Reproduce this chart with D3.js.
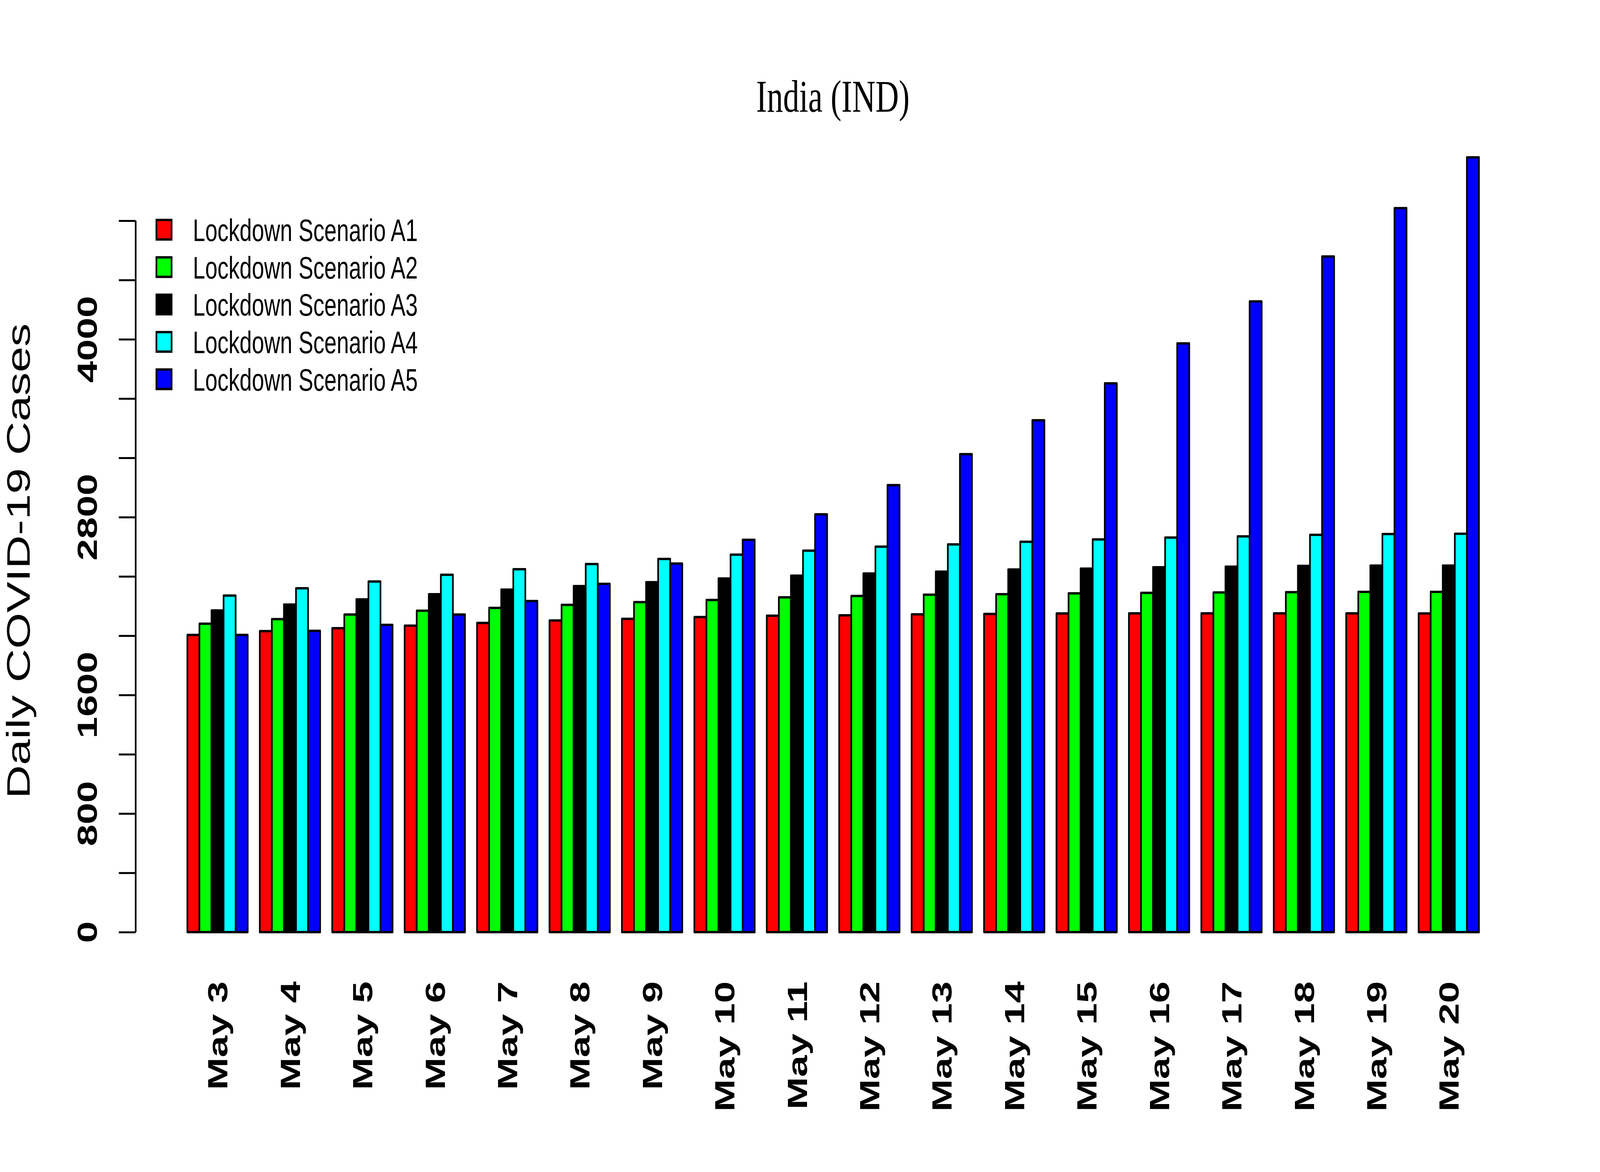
<!DOCTYPE html>
<html>
<head>
<meta charset="utf-8">
<script src="https://cdn.jsdelivr.net/npm/d3@7"></script>
<style>
  html, body { margin: 0; padding: 0; background: #ffffff; width: 100%; height: 100%; overflow: hidden; }
  svg { display: block; width: 100vw; height: 100vh; }
</style>
</head>
<body>
<script>
// ---- Data ----
const dates = ["May 3","May 4","May 5","May 6","May 7","May 8","May 9","May 10","May 11",
               "May 12","May 13","May 14","May 15","May 16","May 17","May 18","May 19","May 20"];
const seriesNames = ["Lockdown Scenario A1","Lockdown Scenario A2","Lockdown Scenario A3",
                     "Lockdown Scenario A4","Lockdown Scenario A5"];
const scenarioA1 = [2005,2031,2051,2068,2086,2103,2114,2126,2135,2138,2144,2147,2150,2151,2151,2151,2151,2150];
const scenarioA2 = [2081,2112,2143,2169,2188,2208,2227,2241,2259,2268,2277,2280,2286,2289,2292,2294,2296,2296];
const scenarioA3 = [2171,2210,2245,2280,2311,2335,2361,2386,2405,2420,2432,2447,2453,2462,2466,2471,2473,2473];
const scenarioA4 = [2271,2320,2366,2411,2449,2484,2518,2547,2574,2601,2616,2634,2650,2662,2670,2681,2686,2688];
const scenarioA5 = [2005,2033,2073,2143,2234,2350,2487,2647,2819,3016,3225,3454,3703,3972,4256,4559,4885,5228];
const seriesColors = ["#ff0000","#00ff00","#000000","#00ffff","#0000ff"];
const yTickValues = [0,400,800,1200,1600,2000,2400,2800,3200,3600,4000,4400,4800];
const yTickLabels = [0,800,1600,2800,4000];
const titleText = "India (IND)";
const yTitle = "Daily COVID-19 Cases";

const allSeries = [scenarioA1, scenarioA2, scenarioA3, scenarioA4, scenarioA5];

// ---- Layout ----
const W = 5790, H = 3000;
const svg = d3.select("body").append("svg")
  .attr("viewBox", `0 0 ${W} ${H}`)
  .attr("preserveAspectRatio", "none");
svg.append("rect").attr("width", W).attr("height", H).attr("fill", "#ffffff");

const axisX = 491;
const y = d3.scaleLinear().domain([0, 4800]).range([2386, 565]);
const x0 = d3.scaleBand().domain(dates).range([678, 5352]).paddingInner(1/6).paddingOuter(0);
const x1 = d3.scaleBand().domain(d3.range(5)).range([0, x0.bandwidth()]).padding(0);

// ---- Bars ----
const groups = svg.append("g").selectAll("g")
  .data(dates).join("g")
  .attr("transform", d => `translate(${x0(d)},0)`);

groups.selectAll("rect")
  .data((d, i) => allSeries.map((s, k) => ({k, v: s[i]})))
  .join("rect")
  .attr("x", d => x1(d.k))
  .attr("y", d => y(d.v))
  .attr("width", x1.bandwidth())
  .attr("height", d => y(0) - y(d.v))
  .attr("fill", d => seriesColors[d.k])
  .attr("stroke", "#000")
  .attr("stroke-width", 6)
  .attr("stroke-linejoin", "round");

// ---- Y axis ----
const yAxis = d3.axisLeft(y).tickValues(yTickValues).tickSize(61).tickFormat("");
const yg = svg.append("g").attr("transform", `translate(${axisX},0)`).call(yAxis);
yg.select(".domain").attr("stroke", "#000").attr("stroke-width", 6)
  .attr("d", `M0,${y(0)}V${y(4800)}`);
yg.selectAll(".tick line").attr("stroke", "#000").attr("stroke-width", 5);

svg.append("g").selectAll("text")
  .data(yTickLabels).join("text")
  .attr("transform", d => `translate(350,${y(d)}) rotate(-90)`)
  .attr("text-anchor", "middle")
  .attr("font-family", "Liberation Sans, Arial, sans-serif")
  .attr("font-weight", "bold")
  .attr("font-size", 100)
  .attr("fill", "#000")
  .text(d => d);

// ---- X labels ----
svg.append("g").selectAll("text")
  .data(dates).join("text")
  .attr("transform", d => `translate(${x0(d) + x0.bandwidth()/2},2512) rotate(-90)`)
  .attr("text-anchor", "end")
  .attr("dy", "0.36em")
  .attr("font-family", "Liberation Sans, Arial, sans-serif")
  .attr("font-weight", "bold")
  .attr("font-size", 100)
  .attr("fill", "#000")
  .text(d => d);

// ---- Title ----
svg.append("text")
  .attr("x", 3014).attr("y", 286)
  .attr("text-anchor", "middle")
  .attr("font-family", "Liberation Serif, Times New Roman, serif")
  .attr("font-size", 117)
  .attr("fill", "#000")
  .text(titleText);

// ---- Y title ----
svg.append("text")
  .attr("transform", `translate(108,1436) rotate(-90)`)
  .attr("text-anchor", "middle")
  .attr("font-family", "Liberation Sans, Arial, sans-serif")
  .attr("font-size", 119)
  .attr("fill", "#000")
  .text(yTitle);

// ---- Legend ----
const legend = svg.append("g").selectAll("g")
  .data(seriesNames).join("g")
  .attr("transform", (d, i) => `translate(0,${588 + i * 95.7})`);
legend.append("rect")
  .attr("x", 566).attr("y", -25).attr("width", 55).attr("height", 50)
  .attr("fill", (d, i) => seriesColors[i])
  .attr("stroke", "#000").attr("stroke-width", 6);
legend.append("text")
  .attr("x", 698).attr("y", 0).attr("dy", "0.36em")
  .attr("font-family", "Liberation Sans, Arial, sans-serif")
  .attr("font-size", 80)
  .attr("fill", "#000")
  .text(d => d);
</script>
</body>
</html>
